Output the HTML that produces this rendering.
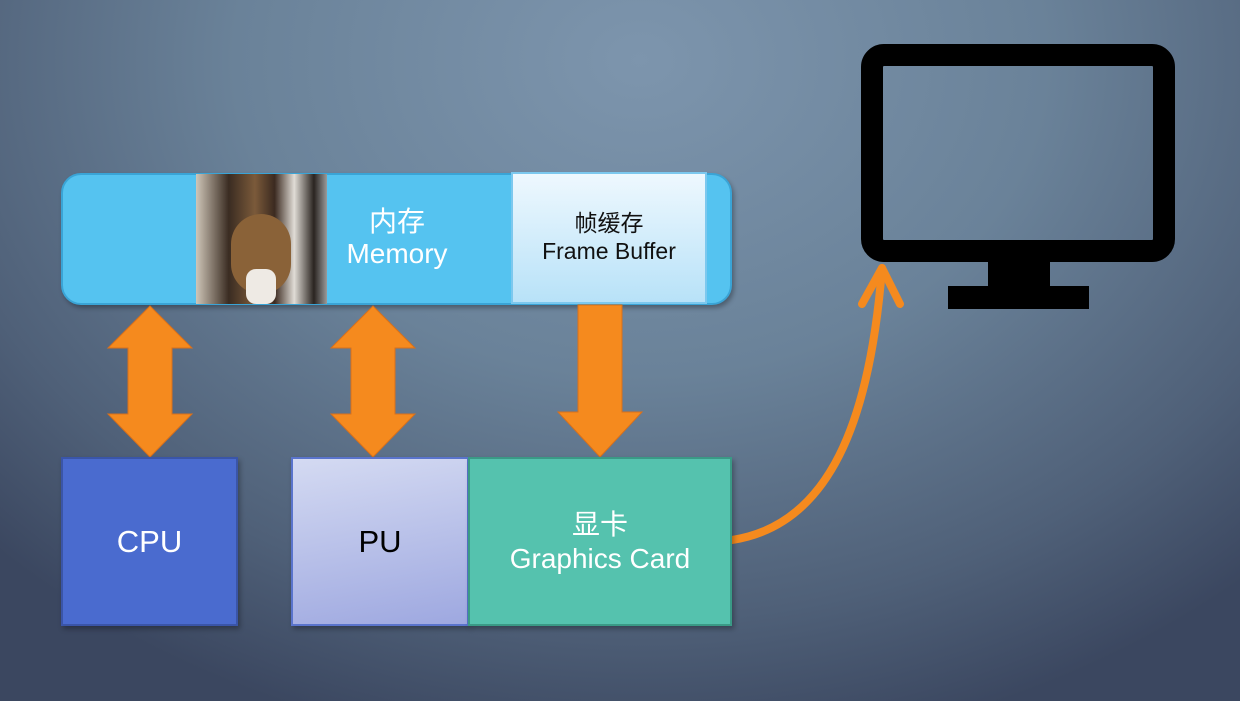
<!DOCTYPE html>
<html><head><meta charset="utf-8"><style>
html,body{margin:0;padding:0}
body{width:1240px;height:701px;position:relative;overflow:hidden;
background:radial-gradient(ellipse 900px 700px at 640px 60px,#7d95ad 0%,#6a8299 45%,#4f6078 80%,#3b4760 100%);
font-family:"Liberation Sans","Noto Sans CJK SC",sans-serif}
.a{position:absolute;box-sizing:border-box}
.t{display:flex;flex-direction:column;align-items:center;justify-content:center;text-align:center;line-height:1.2}
</style></head><body>
<div class="a" style="left:61px;top:173px;width:671px;height:132px;background:#55c3f0;border:2px solid #3aa4d6;border-radius:20px;box-shadow:2px 3px 5px rgba(0,0,0,.3)"></div>
<div class="a" style="left:196px;top:174px;width:131px;height:130px;background:linear-gradient(90deg,#cfc6b8 0%,#3a2c22 25%,#7b5a3a 45%,#3b2a20 60%,#e0dcd6 75%,#2a2420 90%,#9a9a9a 100%)">
<div class="a" style="left:35px;top:40px;width:60px;height:80px;border-radius:30px;background:#8a6238"></div>
<div class="a" style="left:50px;top:95px;width:30px;height:35px;background:#eeeae4;border-radius:10px"></div>
</div>
<div class="a t" style="left:317px;top:198px;width:160px;height:80px;color:#fff;font-size:28px;line-height:1.15">内存<br>Memory</div>
<div class="a t" style="left:511px;top:172px;width:196px;height:132px;background:linear-gradient(180deg,#eef8fe,#b8e2f8);border:2px solid #7cc8ee;color:#111;font-size:23px">帧缓存<br>Frame Buffer</div>
<svg class="a" style="left:0;top:0" width="1240" height="701">
<g fill="#f58a1e" stroke="#d9701a" stroke-width="1">
<polygon points="150,306 192,348 172,348 172,414 192,414 150,457 108,414 128,414 128,348 108,348"/>
<polygon points="373,306 415,348 395,348 395,414 415,414 373,457 331,414 351,414 351,348 331,348"/>
<polygon points="578,305 622,305 622,412 642,412 600,457 558,412 578,412"/>
</g>
<path d="M732,540 C830,525 870,420 882,268" fill="none" stroke="#f58a1e" stroke-width="8" stroke-linecap="round"/>
<polyline points="862,304 882,268 900,304" fill="none" stroke="#f58a1e" stroke-width="8" stroke-linecap="round" stroke-linejoin="round"/>
<rect x="872" y="55" width="292" height="196" rx="12" fill="none" stroke="#000" stroke-width="22"/>
<rect x="988" y="258" width="62" height="30" fill="#000"/>
<rect x="948" y="286" width="141" height="23" fill="#000"/>
</svg>
<div class="a t" style="left:61px;top:457px;width:177px;height:169px;background:#4a6bcf;border:2px solid #3a55a8;color:#fff;font-size:31px;box-shadow:2px 3px 5px rgba(0,0,0,.3)">CPU</div>
<div class="a t" style="left:291px;top:457px;width:178px;height:169px;background:linear-gradient(170deg,#d4daf2,#9ea8e0);border:2px solid #5a74cc;color:#000;font-size:31px;box-shadow:2px 3px 5px rgba(0,0,0,.3)">PU</div>
<div class="a t" style="left:468px;top:457px;width:264px;height:169px;background:#55c2ae;border:2px solid #3a9a86;color:#fff;font-size:28px;box-shadow:2px 3px 5px rgba(0,0,0,.3)">显卡<br>Graphics Card</div>
</body></html>
